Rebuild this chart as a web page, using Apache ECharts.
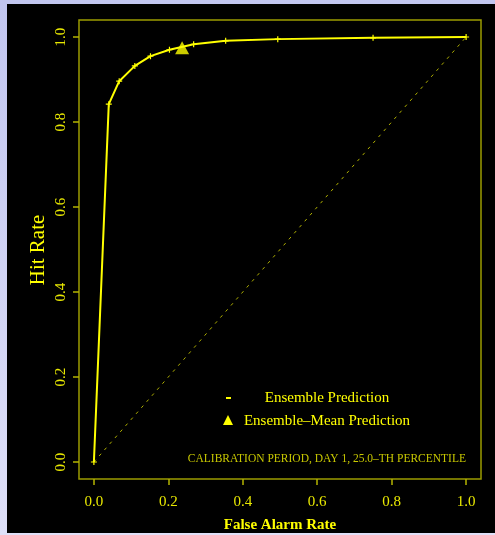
<!DOCTYPE html>
<html><head><meta charset="utf-8">
<script src="https://cdn.jsdelivr.net/npm/echarts@6/dist/echarts.min.js"></script>
<style>
html,body{margin:0;padding:0;width:495px;height:535px;overflow:hidden;background:linear-gradient(#c2c6f0,#dfe0f8);}
#c{position:absolute;left:7px;top:4px;width:488px;height:529px;background:#000;}
</style></head><body><div id="c"></div>
<script>
var falseAlarmRate = [0, 0.04, 0.068, 0.11, 0.152, 0.203, 0.268, 0.354, 0.494, 0.75, 1.0];
var hitRate = [0, 0.842, 0.896, 0.932, 0.955, 0.970, 0.983, 0.991, 0.995, 0.998, 1.0];
var meanFalseAlarm = [0.237];
var meanHit = [0.975];
var tickValues = [0, 0.2, 0.4, 0.6, 0.8, 1.0];
var diagonal = [[0, 0], [1, 1]];
var xTitle = 'False Alarm Rate';
var yTitle = 'Hit Rate';
var legendLabels = ['Ensemble Prediction', 'Ensemble\u2013Mean Prediction'];
var annotation = 'CALIBRATION PERIOD, DAY 1, 25.0\u2013TH PERCENTILE';

var serif = '"Liberation Serif","DejaVu Serif",serif';
var chart = echarts.init(document.getElementById('c'));
var star = 'path://M4,0H6V4H10V6H6V10H4V6H0V4H4Z';
function axisCommon(name, isY) {
  return {
    type: 'value', min: -0.04, max: 1.04,
    name: name, nameLocation: 'middle',
    nameGap: 39,
    nameTextStyle: {color: '#ffff00', fontFamily: serif, fontSize: 15, fontWeight: 'bold'},
    axisLine: {show: false, onZero: false},
    splitLine: {show: false},
    axisTick: {show: true, inside: false, length: 6, customValues: tickValues, lineStyle: {color: '#b4b400', width: 1.5}},
    axisLabel: {customValues: tickValues, color: '#e8e800', fontFamily: serif, fontSize: 15,
      rotate: isY ? 90 : 0, margin: isY ? 10 : 16,
      formatter: function (v) { return v.toFixed(1); }}
  };
}
chart.setOption({
  animation: false,
  grid: {left: 72, right: 14, top: 16, bottom: 54, outerBoundsMode: 'none', containLabel: false, show: true, borderColor: '#9c9c00', borderWidth: 1.5, backgroundColor: 'transparent'},
  xAxis: axisCommon(xTitle, false),
  yAxis: axisCommon('', true),
  series: [
    {type: 'line', data: diagonal, symbol: 'none', lineStyle: {color: '#b0b000', width: 1, type: [3, 5]}, z: 1},
    {type: 'line', data: falseAlarmRate.map(function (x, i) { return [x, hitRate[i]]; }),
      symbol: star, symbolSize: 6, showSymbol: true,
      itemStyle: {color: '#ffff00'}, lineStyle: {color: '#ffff00', width: 2}, z: 3},
    {type: 'scatter', data: meanFalseAlarm.map(function (x, i) { return [x, meanHit[i]]; }),
      symbol: 'triangle', symbolSize: [14, 13], itemStyle: {color: '#ffff00'}, z: 4}
  ],
  graphic: [
    {type: 'text', x: 31, y: 246, rotation: Math.PI / 2, style: {text: yTitle, fill: '#ffff00', font: '21px ' + serif, align: 'center', verticalAlign: 'middle'}},
    {type: 'rect', left: 219, top: 393, shape: {width: 5, height: 2}, style: {fill: '#ffff00'}},
    {type: 'text', x: 320, y: 394, style: {text: legendLabels[0], fill: '#ffff00', font: '15px ' + serif, align: 'center', verticalAlign: 'middle'}},
    {type: 'polygon', shape: {points: [[221, 411], [216, 421], [226, 421]]}, style: {fill: '#ffff00'}},
    {type: 'text', x: 320, y: 417, style: {text: legendLabels[1], fill: '#ffff00', font: '15px ' + serif, align: 'center', verticalAlign: 'middle'}},
    {type: 'text', x: 459, y: 455, style: {text: annotation, fill: '#c8c800', font: '11.5px ' + serif, align: 'right', verticalAlign: 'middle'}}
  ]
});
</script></body></html>
